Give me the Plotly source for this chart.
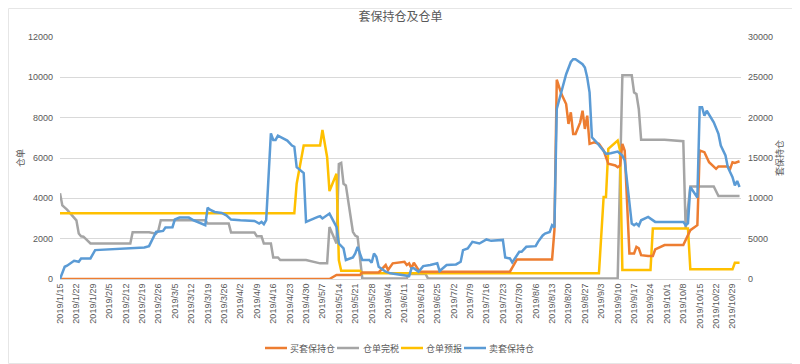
import plotly.graph_objects as go

# ---- data ----
buy_dates = ["2019-01-15", "2019-05-10", "2019-05-13", "2019-05-23", "2019-05-24", "2019-05-31",
             "2019-06-03", "2019-06-04", "2019-06-06", "2019-06-10", "2019-06-11", "2019-06-12",
             "2019-06-13", "2019-06-14", "2019-06-15", "2019-06-17", "2019-06-18", "2019-07-26",
             "2019-07-29", "2019-08-13", "2019-08-14", "2019-08-15", "2019-08-17", "2019-08-19",
             "2019-08-20", "2019-08-21", "2019-08-22", "2019-08-23", "2019-08-25", "2019-08-26",
             "2019-08-27", "2019-08-28", "2019-08-29", "2019-08-31", "2019-09-02", "2019-09-04",
             "2019-09-06", "2019-09-09", "2019-09-10", "2019-09-11", "2019-09-12", "2019-09-13",
             "2019-09-15", "2019-09-17", "2019-09-18", "2019-09-19", "2019-09-20", "2019-09-23",
             "2019-09-25", "2019-09-26", "2019-09-30", "2019-10-08", "2019-10-11", "2019-10-14",
             "2019-10-15", "2019-10-17", "2019-10-18", "2019-10-19", "2019-10-22", "2019-10-23",
             "2019-10-27", "2019-10-28", "2019-10-29", "2019-10-30", "2019-11-01"]
buy_hedge = [0, 0, 500, 500, 820, 820,
             1730, 1110, 1940, 2100, 2140, 1730,
             1940, 1320, 2010, 1110, 900, 900,
             2430, 2430, 6050, 24700, 22920, 21690,
             19220, 20660, 17990, 17990, 19420, 20860,
             18600, 20250, 16750, 16950, 16750, 15930,
             14280, 14070, 13860, 14070, 16750, 15900,
             3170, 3170, 3990, 3800, 2960, 2840,
             2840, 3660, 4200, 4200, 6050, 6670,
             15930, 15720, 15020, 14480, 13660, 13950,
             13950, 13660, 14480, 14400, 14600]

tax_dates = ["2019-01-15", "2019-01-16", "2019-01-18", "2019-01-21", "2019-01-22", "2019-01-23",
             "2019-01-24", "2019-01-25", "2019-01-28", "2019-02-14", "2019-02-15", "2019-02-22",
             "2019-02-25", "2019-02-26", "2019-02-27", "2019-03-18", "2019-03-19", "2019-03-28",
             "2019-03-29", "2019-04-08", "2019-04-09", "2019-04-11", "2019-04-12", "2019-04-15",
             "2019-04-16", "2019-04-18", "2019-04-19", "2019-04-30", "2019-05-06", "2019-05-09",
             "2019-05-10", "2019-05-13", "2019-05-14", "2019-05-15", "2019-05-16", "2019-05-17",
             "2019-05-20", "2019-05-21", "2019-05-22", "2019-05-24", "2019-06-12", "2019-06-13",
             "2019-06-20", "2019-06-21", "2019-09-10", "2019-09-12", "2019-09-16", "2019-09-17",
             "2019-09-18", "2019-09-19", "2019-09-20", "2019-09-30", "2019-10-08", "2019-10-09",
             "2019-10-11", "2019-10-21", "2019-10-23", "2019-11-01"]
tax_receipt = [4250, 3650, 3440, 3080, 2910, 2255,
               2120, 2100, 1760, 1760, 2320, 2320,
               2250, 2420, 2910, 2910, 2750, 2750,
               2300, 2300, 2120, 2120, 1760, 1760,
               1070, 1070, 940, 940, 775, 775,
               2580, 1760, 5700, 5760, 4725, 4640,
               2340, 2150, 2090, 30, 30, 250,
               250, 30, 30, 10100, 10100, 9250,
               9170, 8430, 6900, 6900, 6830, 2500,
               4590, 4590, 4115, 4115]

fcst_dates = ["2019-01-15", "2019-04-25", "2019-04-26", "2019-04-29", "2019-05-06", "2019-05-07",
              "2019-05-09", "2019-05-10", "2019-05-13", "2019-05-14", "2019-05-15", "2019-05-23",
              "2019-05-24", "2019-09-02", "2019-09-04", "2019-09-05", "2019-09-06", "2019-09-10",
              "2019-09-11", "2019-09-12", "2019-09-24", "2019-09-25", "2019-10-10", "2019-10-11",
              "2019-10-29", "2019-10-30", "2019-11-01"]
fcst_receipt = [3260, 3260, 4725, 6617, 6617, 7390,
                6040, 4360, 5220, 940, 410, 410,
                280, 280, 4064, 4064, 6450, 6865,
                6370, 445, 445, 2500, 2500, 480,
                480, 805, 805]

sell_dates = ["2019-01-15", "2019-01-16", "2019-01-17", "2019-01-18", "2019-01-21", "2019-01-22",
              "2019-01-23", "2019-01-24", "2019-01-28", "2019-01-30", "2019-02-13", "2019-02-17",
              "2019-02-20", "2019-02-22", "2019-02-25", "2019-02-28", "2019-03-01", "2019-03-04",
              "2019-03-05", "2019-03-07", "2019-03-11", "2019-03-13", "2019-03-18", "2019-03-19",
              "2019-03-20", "2019-03-22", "2019-03-25", "2019-03-27", "2019-03-29", "2019-04-02",
              "2019-04-08", "2019-04-10", "2019-04-11", "2019-04-12", "2019-04-13", "2019-04-15",
              "2019-04-16", "2019-04-17", "2019-04-18", "2019-04-22", "2019-04-24", "2019-04-25",
              "2019-04-26", "2019-04-29", "2019-04-30", "2019-05-05", "2019-05-06", "2019-05-07",
              "2019-05-10", "2019-05-13", "2019-05-14", "2019-05-16", "2019-05-17", "2019-05-20",
              "2019-05-21", "2019-05-22", "2019-05-24", "2019-05-27", "2019-05-28", "2019-05-29",
              "2019-05-30", "2019-05-31", "2019-06-03", "2019-06-05", "2019-06-13", "2019-06-14",
              "2019-06-15", "2019-06-17", "2019-06-19", "2019-06-22", "2019-06-25", "2019-06-26",
              "2019-06-29", "2019-07-03", "2019-07-05", "2019-07-06", "2019-07-08", "2019-07-10",
              "2019-07-13", "2019-07-16", "2019-07-18", "2019-07-23", "2019-07-24", "2019-07-26",
              "2019-07-27", "2019-07-30", "2019-07-31", "2019-08-02", "2019-08-06", "2019-08-07",
              "2019-08-08", "2019-08-09", "2019-08-10", "2019-08-12", "2019-08-13", "2019-08-14",
              "2019-08-15", "2019-08-16", "2019-08-19", "2019-08-21", "2019-08-22", "2019-08-23",
              "2019-08-26", "2019-08-27", "2019-08-28", "2019-08-29", "2019-08-30", "2019-09-01",
              "2019-09-03", "2019-09-05", "2019-09-07", "2019-09-10", "2019-09-12", "2019-09-13",
              "2019-09-16", "2019-09-17", "2019-09-18", "2019-09-19", "2019-09-20", "2019-09-23",
              "2019-09-26", "2019-10-08", "2019-10-09", "2019-10-10", "2019-10-11", "2019-10-14",
              "2019-10-15", "2019-10-16", "2019-10-17", "2019-10-18", "2019-10-21", "2019-10-23",
              "2019-10-24", "2019-10-26", "2019-10-27", "2019-10-29", "2019-10-30", "2019-10-31",
              "2019-11-01"]
sell_hedge = [0, 700, 1520, 1650, 2260, 2200,
              2140, 2550, 2550, 3580, 3790, 3870,
              3900, 4070, 5840, 5960, 6380, 6420,
              7370, 7610, 7610, 7280, 6670, 8850,
              8600, 8310, 8190, 7900, 7370, 7280,
              7200, 6870, 7080, 6790, 7300, 18060,
              17240, 17240, 17780, 17160, 16540, 16400,
              13860, 13120, 7080, 7700, 7780, 7500,
              8110, 6460, 4400, 3790, 2350, 2680,
              3170, 3990, 2350, 2350, 2010, 3170,
              2760, 1520, 900, 700, 370, 1320,
              1320, 900, 1600, 1730, 1940, 990,
              1730, 1810, 2140, 3580, 3790, 4610,
              4400, 4900, 4730, 4850, 2680, 2550,
              2060, 3370, 3370, 3990, 4070, 4610,
              5020, 5400, 5640, 5840, 6670, 6400,
              21070, 22100, 25390, 26900, 27240, 27240,
              26630, 26210, 24980, 23130, 17570, 16950,
              16260, 15520, 15600, 15800, 15310, 14690,
              6870, 6670, 6870, 6600, 7280, 7700,
              7080, 7080, 6670, 6900, 11400, 10100,
              21300, 21300, 20250, 20860, 19420, 17990,
              16540, 15310, 13860, 12630, 11600, 12140,
              11400]

series_names = ["买套保持仓", "仓单完税", "仓单预报", "卖套保持仓"]
series_colors = ["#ED7D31", "#A5A5A5", "#FFC000", "#5B9BD5"]

title_text = "套保持仓及仓单"
left_title = "仓单"
right_title = "套保持仓"

# ---- figure ----
# the page body has an 8px default margin, so the figure is 8px smaller
# and every reference pixel position is shifted by that offset
OFF = 8
W, H = 800 - OFF, 364 - OFF
L, R, T, B = 60 - OFF, 59, 37 - OFF, 85
pw, ph = W - L - R, H - T - B

def px_x(p):
    return (p - OFF - L) / pw

def px_y(p):
    return (H - B - (p - OFF)) / ph

CJK = "Noto Sans CJK SC, sans-serif"
NUM = "Liberation Sans, Arial, sans-serif"
TXT = "#595959"

fig = go.Figure()
fig.add_trace(go.Scatter(x=buy_dates, y=buy_hedge, name=series_names[0], mode="lines",
                         line=dict(color=series_colors[0], width=2.5), yaxis="y2"))
fig.add_trace(go.Scatter(x=tax_dates, y=tax_receipt, name=series_names[1], mode="lines",
                         line=dict(color=series_colors[1], width=2.5), yaxis="y"))
fig.add_trace(go.Scatter(x=fcst_dates, y=fcst_receipt, name=series_names[2], mode="lines",
                         line=dict(color=series_colors[2], width=2.5), yaxis="y"))
fig.add_trace(go.Scatter(x=sell_dates, y=sell_hedge, name=series_names[3], mode="lines",
                         line=dict(color=series_colors[3], width=2.5), yaxis="y2"))

fig.update_layout(
    width=W, height=H,
    margin=dict(l=L, r=R, t=T, b=B, pad=0, autoexpand=False),
    paper_bgcolor="white", plot_bgcolor="white",
    showlegend=False,
    title=dict(text=title_text, x=0.5, xref="paper", xanchor="center",
               y=1 - (17 - OFF) / H, yanchor="middle",
               font=dict(family=CJK, size=12, color=TXT)),
    xaxis=dict(type="date", range=["2019-01-15", "2019-11-01 15:00"],
               tick0="2019-01-15", dtick=7 * 86400000, tickformat="%Y/%-m/%-d",
               tickangle=-90, tickfont=dict(family=NUM, size=9, color=TXT),
               showgrid=False, showline=True, linecolor="#D9D9D9", linewidth=1,
               ticks="", zeroline=False, fixedrange=True),
    yaxis=dict(range=[0, 12000], dtick=2000, tickformat="d",
               tickfont=dict(family=NUM, size=9, color=TXT),
               showgrid=True, gridcolor="#D9D9D9", gridwidth=1, zeroline=False,
               showline=False, ticks="", ticklabelstandoff=6),
    yaxis2=dict(range=[0, 30000], dtick=5000, tickformat="d", overlaying="y", side="right",
                tickfont=dict(family=NUM, size=9, color=TXT), showgrid=False,
                zeroline=False, showline=False, ticks="", ticklabelstandoff=6),
)

fig.add_annotation(text=left_title, xref="paper", yref="paper", x=px_x(20), y=px_y(158),
                   xanchor="center", yanchor="middle",
                   showarrow=False, textangle=-90, font=dict(family=CJK, size=9, color=TXT))
fig.add_annotation(text=right_title, xref="paper", yref="paper", x=px_x(779), y=px_y(158),
                   xanchor="center", yanchor="middle",
                   showarrow=False, textangle=-90, font=dict(family=CJK, size=9, color=TXT))

# legend drawn at the reference's compact spacing (line sample + label)
legend_line_x = [265, 337, 401, 464]
legend_text_x = [288, 361, 424, 487]
legend_y = 348
for i in range(4):
    fig.add_shape(type="line", xref="paper", yref="paper",
                  x0=px_x(legend_line_x[i]), x1=px_x(legend_line_x[i] + 22),
                  y0=px_y(legend_y), y1=px_y(legend_y),
                  line=dict(color=series_colors[i], width=2.5))
    fig.add_annotation(text=series_names[i], xref="paper", yref="paper",
                       x=px_x(legend_text_x[i]), y=px_y(legend_y),
                       xanchor="left", yanchor="middle", showarrow=False,
                       font=dict(family=CJK, size=9, color=TXT))

# outer chart border (right and bottom edges fall inside the page)
fig.add_shape(type="rect", xref="paper", yref="paper",
              x0=px_x(OFF + 0.5), x1=px_x(799.5), y0=px_y(363.5), y1=px_y(OFF + 0.5),
              line=dict(color="#E6E6E6", width=1), layer="below")

fig.write_html("out.html")
